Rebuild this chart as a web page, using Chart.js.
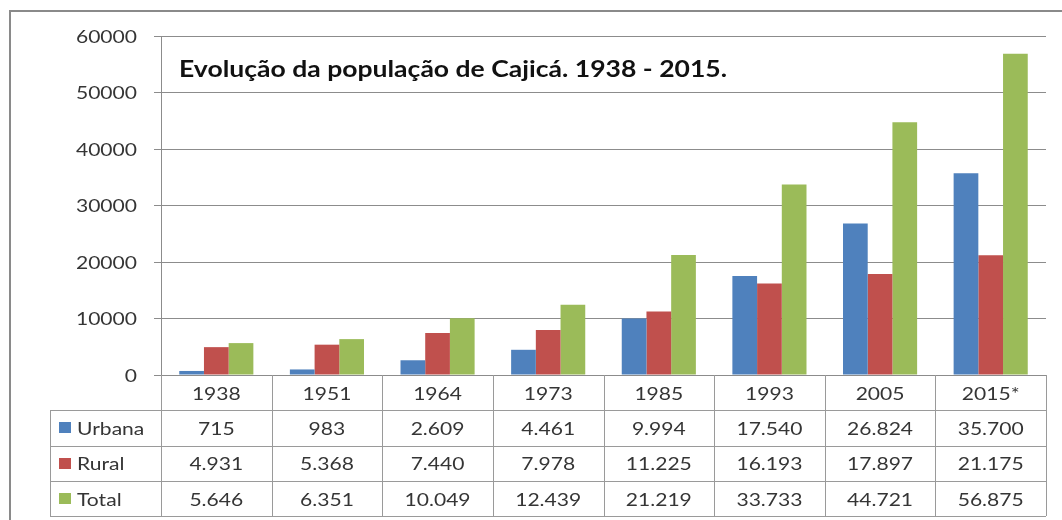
<!DOCTYPE html>
<html><head><meta charset="utf-8">
<script src="https://cdn.jsdelivr.net/npm/chart.js@4/dist/chart.umd.min.js"></script>
<style>html,body{margin:0;padding:0;background:#fff;overflow:hidden}#wrap{width:1062px;height:520px}</style>
</head><body><div id="wrap"><canvas id="c" width="1062" height="520"></canvas></div>
<script>
const chartTitle = 'Evolução da população de Cajicá. 1938 - 2015.';
const categories = ['1938','1951','1964','1973','1985','1993','2005','2015*'];
const seriesNames = ['Urbana','Rural','Total'];
const urbana = [715, 983, 2609, 4461, 9994, 17540, 26824, 35700];
const rural = [4931, 5368, 7440, 7978, 11225, 16193, 17897, 21175];
const total = [5646, 6351, 10049, 12439, 21219, 33733, 44721, 56875];
const yTickValues = [0, 10000, 20000, 30000, 40000, 50000, 60000];
const seriesColors = ['#4F81BD', '#C0504D', '#9BBB59'];

const FONT = 'Lato, "Open Sans", sans-serif';
const SX = 1.17;        // horizontal stretch of the original text
const TEXT = '#353535';
const LINE = '#9a9a9a';

function fmt(n){
  if (n < 1000) return String(n);
  return Math.floor(n/1000) + '.' + String(n % 1000).padStart(3,'0');
}
function stretchedText(ctx, txt, x, y, align, sx){
  ctx.save();
  ctx.translate(x, y);
  ctx.scale(sx, 1);
  ctx.textAlign = align;
  ctx.textBaseline = 'alphabetic';
  ctx.fillText(txt, 0, 0);
  ctx.restore();
}

const frame = {
  id: 'frame',
  beforeDraw(chart){
    const ctx = chart.ctx;
    ctx.save();
    ctx.fillStyle = '#fff';
    ctx.fillRect(0, 0, chart.width, chart.height);
    ctx.strokeStyle = '#8a8a8a';
    ctx.lineWidth = 2;
    ctx.strokeRect(10, 11, 1200, 700);
    ctx.restore();
  }
};

const tablePlugin = {
  id: 'tablePlugin',
  afterDraw(chart){
    const ctx = chart.ctx;
    const xs = chart.scales.x, ys = chart.scales.y;
    const area = chart.chartArea;
    ctx.save();
    // y tick labels
    ctx.fillStyle = TEXT;
    ctx.font = '18px ' + FONT;
    yTickValues.forEach(v => {
      const y = ys.getPixelForValue(v);
      stretchedText(ctx, String(v), 137, y + 6.5, 'right', SX);
    });
    // title
    ctx.fillStyle = '#111';
    ctx.font = 'bold 22px ' + FONT;
    const w = ctx.measureText(chartTitle).width;
    stretchedText(ctx, chartTitle, 179, 77, 'left', 548 / w);

    // table geometry
    const top = area.bottom;
    const rowB = [top, 410, 445.5, 481, 516];
    const left = 50;
    const half = (xs.getPixelForValue(1) - xs.getPixelForValue(0)) / 2;
    ctx.strokeStyle = LINE;
    ctx.lineWidth = 1;
    ctx.beginPath();
    for (let r = 1; r < rowB.length; r++){
      const y = Math.round(rowB[r]) + 0.5;
      ctx.moveTo(left, y); ctx.lineTo(area.right, y);
    }
    ctx.moveTo(left + 0.5, rowB[1]); ctx.lineTo(left + 0.5, rowB[4]);
    for (let i = 0; i <= categories.length; i++){
      const x = Math.round(xs.getPixelForValue(i) - half) + 0.5;
      ctx.moveTo(x, top); ctx.lineTo(x, rowB[4]);
    }
    ctx.stroke();

    ctx.fillStyle = TEXT;
    ctx.font = '18px ' + FONT;
    categories.forEach((c, i) => {
      const cx = xs.getPixelForValue(i);
      stretchedText(ctx, c, cx, (rowB[0] + rowB[1]) / 2 + 7, 'center', SX);
    });
    const data = [urbana, rural, total];
    data.forEach((arr, r) => {
      const cy = (rowB[r+1] + rowB[r+2]) / 2;
      ctx.fillStyle = seriesColors[r];
      ctx.fillRect(59, Math.round(cy - 5.5), 12, 11);
      ctx.fillStyle = TEXT;
      stretchedText(ctx, seriesNames[r], 77, cy + 7, 'left', SX);
      arr.forEach((v, i) => {
        stretchedText(ctx, fmt(v), xs.getPixelForValue(i), cy + 7, 'center', SX);
      });
    });
    ctx.restore();
  }
};

new Chart(document.getElementById('c'), {
  type: 'bar',
  data: {
    labels: categories,
    datasets: [
      { label: seriesNames[0], data: urbana, backgroundColor: seriesColors[0] },
      { label: seriesNames[1], data: rural, backgroundColor: seriesColors[1] },
      { label: seriesNames[2], data: total, backgroundColor: seriesColors[2] }
    ]
  },
  options: {
    responsive: false,
    animation: false,
    devicePixelRatio: 1,
    layout: { padding: { top: 36, right: 16, bottom: 145, left: 0 } },
    datasets: { bar: { categoryPercentage: 0.67, barPercentage: 1.0, borderWidth: 0 } },
    plugins: { legend: { display: false }, title: { display: false }, tooltip: { enabled: false } },
    scales: {
      x: { display: false, offset: true, grid: { display: false } },
      y: {
        min: 0, max: 60000,
        ticks: { display: false, stepSize: 10000 },
        grid: { color: '#8c8c8c', lineWidth: 1, drawTicks: true, tickLength: 7 },
        border: { display: true, color: '#8c8c8c', width: 1 },
        afterFit(scale){ scale.width = 161; }
      }
    }
  },
  plugins: [frame, tablePlugin]
});
</script>
</body></html>
